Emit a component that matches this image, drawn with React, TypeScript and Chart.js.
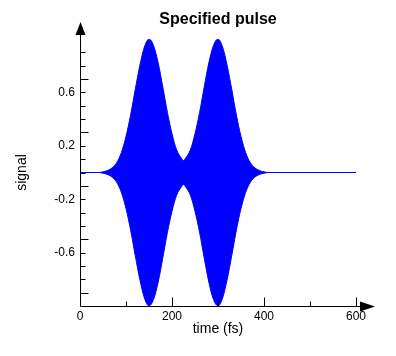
import React, { useEffect, useRef } from 'react';
import { Chart, registerables } from 'chart.js';

Chart.register(...registerables);

// sample times (fs)
const times = [
  0, 10, 20, 30, 40, 50, 60, 70, 80, 90,
  100, 110, 120, 130, 140, 150, 160, 170, 180, 190,
  200, 210, 220, 225, 230, 240, 250, 260, 270, 280, 290,
  300, 310, 320, 330, 340, 350, 360, 370, 380, 390,
  400, 410, 420, 430, 440, 450, 460, 470, 480, 490,
  500, 510, 520, 530, 540, 550, 560, 570, 580, 590,
  600,
];

// upper extent of the oscillating signal
const upperEnvelope = [
  0, 0, 0, 0, 0, 0.005, 0.015, 0.035, 0.075, 0.15,
  0.27, 0.43, 0.62, 0.8, 0.94, 1.0, 0.95, 0.82, 0.64, 0.45,
  0.29, 0.17, 0.11, 0.09, 0.11, 0.17, 0.29, 0.45, 0.64, 0.82, 0.95,
  1.0, 0.94, 0.8, 0.62, 0.43, 0.27, 0.15, 0.075, 0.035, 0.015,
  0.005, 0, 0, 0, 0, 0, 0, 0, 0, 0,
  0, 0, 0, 0, 0, 0, 0, 0, 0, 0,
  0,
];

// lower extent of the oscillating signal
const lowerEnvelope = [
  0, 0, 0, 0, 0, -0.005, -0.015, -0.035, -0.075, -0.15,
  -0.27, -0.43, -0.62, -0.8, -0.94, -1.0, -0.95, -0.82, -0.64, -0.45,
  -0.29, -0.17, -0.11, -0.09, -0.11, -0.17, -0.29, -0.45, -0.64, -0.82, -0.95,
  -1.0, -0.94, -0.8, -0.62, -0.43, -0.27, -0.15, -0.075, -0.035, -0.015,
  -0.005, 0, 0, 0, 0, 0, 0, 0, 0, 0,
  0, 0, 0, 0, 0, 0, 0, 0, 0, 0,
  0,
];

const xTickLabels = [0, 200, 400, 600];
const xLongTicks = [200, 400, 600];
const yTickLabels = [-0.6, -0.2, 0.2, 0.6];
const yLongTicks = [-0.9, -0.5, -0.1, 0.3, 0.7];

const FONT = '"Liberation Sans", Arial, Helvetica, sans-serif';
const BLUE = '#0000ff';

const near = (arr: number[], v: number) => arr.some((a) => Math.abs(a - v) < 1e-6);

const arrowAxes = {
  id: 'arrowAxes',
  afterDatasetsDraw(chart: any) {
    const { ctx, scales } = chart;
    const x = scales.x;
    const y = scales.y;
    const x0 = Math.round(x.getPixelForValue(0)) + 0.5;
    const yb = Math.round(y.getPixelForValue(-1)) + 0.5;
    const yt = y.getPixelForValue(1);
    const xr = x.getPixelForValue(600);
    ctx.save();
    ctx.strokeStyle = '#000';
    ctx.fillStyle = '#000';
    ctx.lineWidth = 1;
    ctx.beginPath();
    // y axis line
    ctx.moveTo(x0, yb);
    ctx.lineTo(x0, yt - 6);
    // x axis line
    ctx.moveTo(x0, yb);
    ctx.lineTo(xr + 6, yb);
    // y ticks
    for (const t of y.ticks) {
      const v = t.value;
      if (Math.abs(v) > 0.95) continue;
      const py = Math.round(y.getPixelForValue(v)) + 0.5;
      const len = near(yLongTicks, v) ? 8 : 5;
      ctx.moveTo(x0, py);
      ctx.lineTo(x0 + len, py);
    }
    // x ticks
    for (const t of x.ticks) {
      const v = t.value;
      if (v <= 0) continue;
      const px = Math.round(x.getPixelForValue(v)) + 0.5;
      const len = near(xLongTicks, v) ? 9 : 5;
      ctx.moveTo(px, yb);
      ctx.lineTo(px, yb - len);
    }
    ctx.stroke();
    // y arrow
    ctx.beginPath();
    ctx.moveTo(x0, yt - 17);
    ctx.lineTo(x0 - 5, yt - 4);
    ctx.lineTo(x0 + 5, yt - 4);
    ctx.closePath();
    ctx.fill();
    // x arrow
    ctx.beginPath();
    ctx.moveTo(xr + 19, yb);
    ctx.lineTo(xr + 4, yb - 5);
    ctx.lineTo(xr + 4, yb + 5);
    ctx.closePath();
    ctx.fill();
    ctx.restore();
  },
};

export default function App() {
  const ref = useRef<HTMLCanvasElement | null>(null);

  useEffect(() => {
    if (!ref.current) return;
    const upper = times.map((t, i) => ({ x: t, y: upperEnvelope[i] }));
    const lower = times.map((t, i) => ({ x: t, y: lowerEnvelope[i] }));
    const chart = new Chart(ref.current, {
      type: 'line',
      data: {
        datasets: [
          {
            label: 'signal',
            data: upper,
            borderColor: BLUE,
            backgroundColor: BLUE,
            borderWidth: 1,
            pointRadius: 0,
            fill: '+1',
            cubicInterpolationMode: 'monotone',
          },
          {
            label: 'signal-lower',
            data: lower,
            borderColor: BLUE,
            backgroundColor: BLUE,
            borderWidth: 1,
            pointRadius: 0,
            fill: false,
            cubicInterpolationMode: 'monotone',
          },
        ],
      },
      options: {
        animation: false,
        responsive: false,
        maintainAspectRatio: false,
        layout: { padding: { left: 0, right: 40, top: 0, bottom: 0 } },
        plugins: {
          legend: { display: false },
          tooltip: { enabled: false },
          title: {
            display: true,
            text: 'Specified pulse',
            color: '#000',
            fullSize: false,
            font: { family: FONT, size: 16, weight: 'bold' },
            padding: { top: 10, bottom: 9.8 },
          },
        },
        scales: {
          x: {
            type: 'linear',
            min: 0,
            max: 600,
            border: { display: false },
            grid: { display: false, drawTicks: false },
            ticks: {
              stepSize: 100,
              autoSkip: false,
              maxRotation: 0,
              padding: 3,
              color: '#000',
              font: { family: FONT, size: 12 },
              callback: (v: any) => (near(xTickLabels, Number(v)) ? String(v) : ''),
            },
            title: {
              display: true,
              text: 'time (fs)',
              color: '#000',
              font: { family: FONT, size: 14 },
              padding: { top: 0, bottom: 18.6 },
            },
            afterFit: (s: any) => {
              s.height = 50;
            },
          },
          y: {
            type: 'linear',
            min: -1,
            max: 1,
            border: { display: false },
            grid: { display: false, drawTicks: false },
            ticks: {
              stepSize: 0.1,
              autoSkip: false,
              padding: 5,
              color: '#000',
              font: { family: FONT, size: 12 },
              callback: (v: any) => (near(yTickLabels, Number(v)) ? Number(v).toFixed(1) : ''),
            },
            title: {
              display: true,
              text: 'signal',
              color: '#000',
              font: { family: FONT, size: 14 },
              padding: { top: 13.6, bottom: 0 },
            },
            afterFit: (s: any) => {
              s.width = 80;
            },
          },
        },
      },
      plugins: [arrowAxes],
    });
    return () => chart.destroy();
  }, []);

  return (
    <div style={{ position: 'absolute', left: 0, top: 0, width: 396, height: 356, background: '#fff' }}>
      <canvas ref={ref} width={396} height={356} />
    </div>
  );
}
